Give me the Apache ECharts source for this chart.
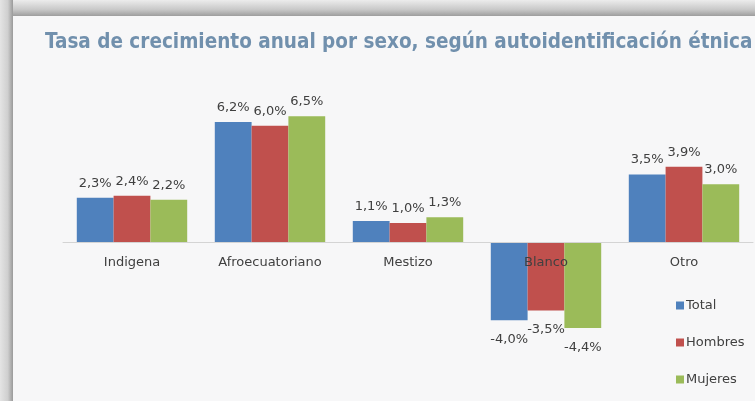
<!DOCTYPE html>
<html>
<head>
<meta charset="utf-8">
<script src="https://cdn.jsdelivr.net/npm/echarts@6/dist/echarts.min.js"></script>
<style>
  html, body { margin: 0; padding: 0; background: #f7f7f8; }
  #chart { width: 755px; height: 401px; }
</style>
</head>
<body>
<div id="chart"></div>
<script>
// categorias y valores (%)
const categorias = ["Indigena", "Afroecuatoriano", "Mestizo", "Blanco", "Otro"];
const total = [2.3, 6.2, 1.1, -4.0, 3.5];
const hombres = [2.4, 6.0, 1.0, -3.5, 3.9];
const mujeres = [2.2, 6.5, 1.3, -4.4, 3.0];
const seriesNames = ["Total", "Hombres", "Mujeres"];
const colores = ["#4f81bd", "#c0504d", "#9bbb59"];

const chart = echarts.init(document.getElementById("chart"));

const fmt = (p) => p.value.toFixed(1).replace(".", ",") + "%";

// etiquetas: arriba para positivos, abajo para negativos
function buildData(arr) {
  return arr.map((v) => ({
    value: v,
    label: v < 0 ? { position: "bottom", distance: 13 } : { position: "top", distance: 8 },
  }));
}

const series = [total, hombres, mujeres].map((arr, i) => ({
  name: seriesNames[i],
  type: "bar",
  barGap: "0%",
  barCategoryGap: "20%",
  itemStyle: { color: colores[i] },
  label: {
    show: true,
    formatter: fmt,
    color: "#404040",
    fontSize: 13,
    fontFamily: "DejaVu Sans",
  },
  data: buildData(arr),
}));

const option = {
  backgroundColor: "#f7f7f8",
  animation: false,
  graphic: [
    // marco superior
    {
      type: "rect",
      shape: { x: 0, y: 0, width: 755, height: 16 },
      style: {
        fill: new echarts.graphic.LinearGradient(0, 0, 0, 1, [
          { offset: 0, color: "#ececec" },
          { offset: 0.6, color: "#c8c8c8" },
          { offset: 1, color: "#9e9e9e" },
        ]),
      },
      z: 0,
    },
    // marco izquierdo
    {
      type: "rect",
      shape: { x: 0, y: 0, width: 13, height: 401 },
      style: {
        fill: new echarts.graphic.LinearGradient(0, 0, 1, 0, [
          { offset: 0, color: "#e4e4e4" },
          { offset: 0.6, color: "#cfcfcf" },
          { offset: 1, color: "#9a9a9a" },
        ]),
      },
      z: 0,
    },
    {
      type: "text",
      left: 45,
      top: 32,
      style: {
        text: "Tasa de crecimiento anual por sexo, según autoidentificación étnica",
        fill: "#7190ad",
        font: "bold 20.5px 'DejaVu Sans Condensed'",
      },
    },
  ],
  legend: {
    orient: "vertical",
    left: 671,
    top: 294,
    itemWidth: 8,
    itemHeight: 8,
    itemGap: 24,
    icon: "rect",
    textStyle: { color: "#404040", fontSize: 13, fontFamily: "DejaVu Sans", padding: [0, 0, 0, -3] },
    data: seriesNames,
  },
  grid: {
    left: 63,
    right: 2,
    top: 87,
    height: 272,
  },
  // eje de categorias colocado en el cero (8 * 272/14 = 155 px bajo el borde superior)
  xAxis: {
    type: "category",
    data: categorias,
    position: "top",
    offset: -155,
    z: 10,
    axisLine: { show: true, onZero: false, lineStyle: { color: "#d4d4d4", width: 1 } },
    axisTick: { show: false },
    axisLabel: { inside: true, color: "#404040", fontSize: 13, fontFamily: "DejaVu Sans", margin: 14, interval: 0 },
  },
  yAxis: {
    type: "value",
    min: -6,
    max: 8,
    interval: 2,
    show: false,
    splitLine: { show: false },
  },
  series: series,
};

chart.setOption(option);
</script>
</body>
</html>
